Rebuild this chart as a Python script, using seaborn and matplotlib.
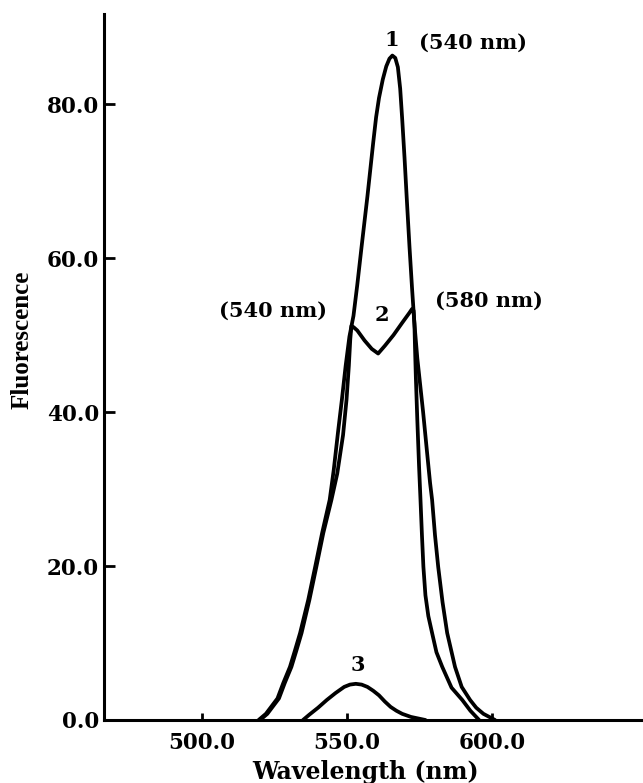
import matplotlib
matplotlib.use("Agg")
import matplotlib.pyplot as plt
import seaborn as sns
import pandas as pd

# ---- data ----
wl_1 = [519.5, 522, 524, 526, 528, 530.3, 532, 533.8, 536.6, 539, 541.4, 544,
        545.4, 546.9, 548.2, 549.5, 550.8, 552.2, 553.5, 555, 557, 559, 560, 561,
        562.3, 563.5, 564.6, 565.6, 566.6, 567.5, 568.3, 569.0, 569.8, 570.6,
        571.5, 572.4, 573.2, 574.2, 575.2, 576.2, 577.5, 578.6, 579.3, 580.3,
        581.4, 582.9, 584.5, 587.2, 589.5, 592.4, 594.5, 597, 601]
fl_1 = [0, 0.8, 1.8, 2.8, 4.8, 6.9, 9.0, 11.3, 15.6, 19.9, 24.3, 28.6,
        32.5, 37.5, 41.6, 46, 49.8, 52.5, 56.5, 61.5, 68, 75, 78.3, 80.8,
        83.2, 84.9, 85.9, 86.3, 86.0, 84.8, 82.0, 78.0, 73.0, 67.5,
        61.5, 56.0, 51.5, 47.0, 43.5, 40.0, 35.0, 30.8, 28.6, 24.0,
        19.9, 15.3, 11.3, 6.9, 4.3, 2.6, 1.6, 0.8, 0]

wl_2 = [520, 522.5, 524.5, 526.5, 528.5, 530.8, 532.5, 534.3, 537, 539.4, 541.8,
        544.6, 546.6, 548.6, 549.8, 550.6, 551.1, 551.5, 552.3, 553.5, 556, 558.5,
        560.7, 563, 566, 569, 571.5, 572.4, 572.9, 573.2, 573.4, 573.7, 574.2,
        574.8, 575.3, 575.8, 576.3, 577.0, 578.0, 579.3, 580.8, 582.8, 586,
        589.7, 592.5, 595.5]
fl_2 = [0, 0.8, 1.8, 2.8, 4.8, 6.9, 9.0, 11.3, 15.6, 19.9, 24.3,
        28.6, 32, 37, 41.6, 46, 49.5, 51.2, 51.0, 50.6, 49.3, 48.2,
        47.6, 48.6, 50.0, 51.6, 52.9, 53.4, 53.2, 51.5, 48.5, 44.5, 39.0,
        33.0, 28.6, 24.0, 19.9, 16.2, 13.5, 11.3, 8.8, 6.9, 4.2,
        2.6, 1.2, 0]

wl_3 = [534.8, 537, 540, 543, 546, 549, 551, 553, 555, 557, 559, 561, 563,
        565, 567, 569, 572, 577]
fl_3 = [0, 0.7, 1.6, 2.6, 3.5, 4.3, 4.6, 4.7, 4.6, 4.3, 3.8, 3.2, 2.4,
        1.7, 1.2, 0.8, 0.4, 0]

curve_names = ["1", "2", "3"]
x_ticks = [500.0, 550.0, 600.0]
y_ticks = [0.0, 20.0, 40.0, 60.0, 80.0]

# annotations: (text, x, y)
labels = [("1", 565.5, 88.3), ("(540 nm)", 593.4, 88.0),
          ("(540 nm)", 524.5, 53.2), ("2", 562.1, 52.6),
          ("(580 nm)", 599.0, 54.5), ("3", 553.8, 7.1)]

df = pd.concat([
    pd.DataFrame({"Wavelength": wl_1, "Fluorescence": fl_1, "curve": curve_names[0]}),
    pd.DataFrame({"Wavelength": wl_2, "Fluorescence": fl_2, "curve": curve_names[1]}),
    pd.DataFrame({"Wavelength": wl_3, "Fluorescence": fl_3, "curve": curve_names[2]}),
], ignore_index=True)

sns.set_theme(style="ticks")
plt.rcParams["font.family"] = ["DejaVu Serif"]
plt.rcParams["font.weight"] = "bold"

fig = plt.figure(figsize=(6.43, 7.83), dpi=100)
ax = fig.add_axes([104 / 643, 63 / 783, 539 / 643, 706 / 783])

sns.lineplot(data=df, x="Wavelength", y="Fluorescence", hue="curve",
             palette=["black", "black", "black"], linewidth=2.7,
             legend=False, ax=ax, sort=True, estimator=None)
for ln in ax.lines:
    ln.set_solid_joinstyle("round")
    ln.set_solid_capstyle("round")

ax.set_xlim(466.2, 652)
ax.set_ylim(0, 91.7)
ax.set_xticks(x_ticks)
ax.set_xticklabels([f"{v:.1f}" for v in x_ticks], fontsize=15.5, fontweight="bold")
ax.set_yticks(y_ticks)
ax.set_yticklabels([f"{v:.1f}" for v in y_ticks], fontsize=15.5, fontweight="bold")
ax.tick_params(axis="x", direction="in", length=5, width=2, pad=8.5, colors="black")
ax.tick_params(axis="y", direction="in", length=8, width=2, pad=3.5, colors="black")

sns.despine(ax=ax)
for s in ["left", "bottom"]:
    ax.spines[s].set_linewidth(2.2)
    ax.spines[s].set_color("black")

ax.set_xlabel("Wavelength (nm)", fontsize=17, fontweight="bold", color="black")
ax.xaxis.set_label_coords(0.485, -0.057)
ax.set_ylabel("Fluorescence", fontsize=18, fontweight="bold", color="black",
              family=["Liberation Serif", "DejaVu Serif"])
ax.yaxis.set_label_coords(-0.13, 0.538)

for txt, x, y in labels:
    ax.text(x, y, txt, fontsize=15, fontweight="bold", ha="center", va="center",
            color="black")

fig.savefig("out.png", dpi=100)
